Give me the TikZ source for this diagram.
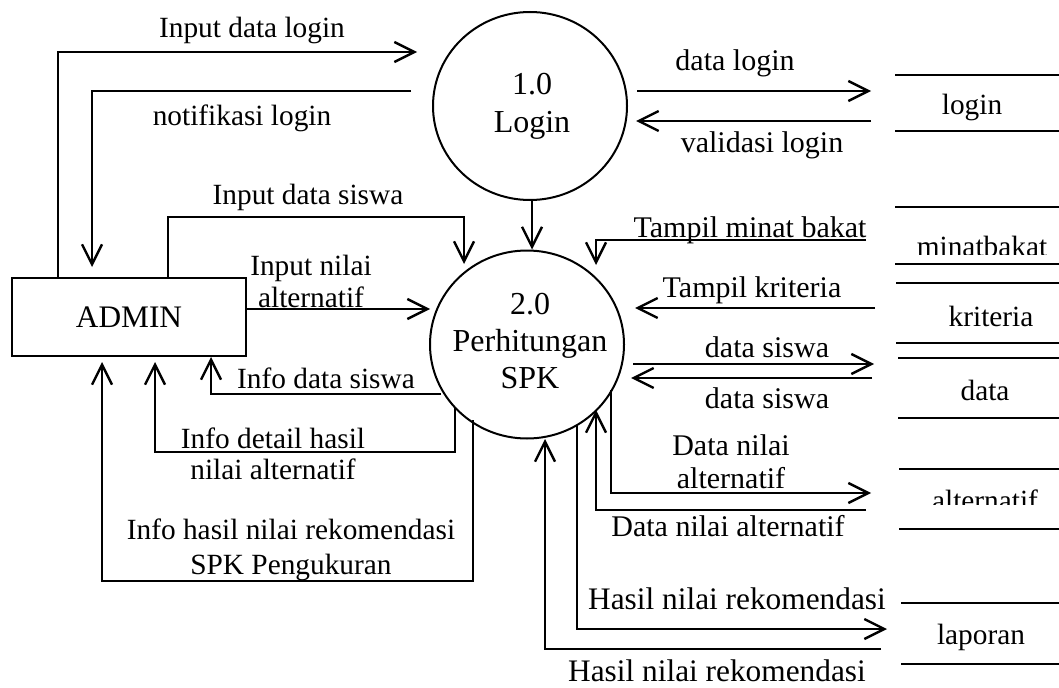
\documentclass[tikz,border=0pt]{standalone}
\usepackage{fontspec}
\setmainfont{Liberation Serif}
\usetikzlibrary{arrows.meta,shapes.geometric}
\begin{document}
\begin{tikzpicture}[x=0.75pt,y=-0.75pt,
  flow/.style={line width=1.8pt,-{Straight Barb[length=15pt,width=15pt]}},
  storeline/.style={line width=1.8pt},
  proc/.style={draw,ellipse,line width=1.5pt,minimum width=145.5pt,minimum height=141pt,inner sep=0pt},
  proctxt/.style={inner sep=0pt,align=center,font=\fontsize{24}{28.5}\selectfont},
  entity/.style={draw,rectangle,line width=1.8pt,minimum width=175.5pt,minimum height=58.5pt,inner sep=0pt,font=\fontsize{23.5}{28}\selectfont},
  lbl/.style={inner sep=0pt,font=\fontsize{22}{26}\selectfont},
  rlbl/.style={inner sep=0pt,font=\fontsize{22.5}{26}\selectfont},
  hlbl/.style={inner sep=0pt,font=\fontsize{23.5}{27}\selectfont},
  storetxt/.style={inner sep=0pt,font=\fontsize{22}{26}\selectfont}
]
\useasboundingbox (0,0) rectangle (1059,688);

% ---------- nodes ----------
\node[entity] (admin) at (129,317) {ADMIN};
\node[proc] (p1) at (530,106) {};
\node[proctxt] (p1t) at (532,106) {1.0\\Login};
\node[proc] (p2) at (527,344.5) {};
\node[proctxt,font=\fontsize{24}{28}\selectfont] (p2t) at (530,341) {2.0\\Perhitungan\\SPK};

% ---------- data stores ----------
\draw[storeline] (895,75) -- (1059,75);
\draw[storeline] (895,131) -- (1059,131);
\node[storetxt] (slogin) at (972,107.5) {login};

\draw[storeline] (895,207) -- (1059,207);
\draw[storeline] (895,264) -- (1059,264);
\begin{scope}
  \clip (895,210) rectangle (1059,254);
  \node[storetxt,anchor=base] (sminat) at (982,256) {minatbakat};
\end{scope}

\draw[storeline] (896,283) -- (1059,283);
\draw[storeline] (896,343) -- (1059,343);
\node[storetxt] (skrit) at (991,316.5) {kriteria};

\draw[storeline] (898,358) -- (1059,358);
\draw[storeline] (898,418) -- (1059,418);
\node[storetxt] (sdata) at (985,390) {data};

\draw[storeline] (899,469) -- (1059,469);
\draw[storeline] (899,529) -- (1059,529);
\begin{scope}
  \clip (895,472) rectangle (1059,504);
  \node[storetxt,anchor=base] (salt) at (985,510) {alternatif};
\end{scope}

\draw[storeline] (901,603) -- (1059,603);
\draw[storeline] (901,664) -- (1059,664);
\node[storetxt] (slap) at (981,637) {laporan};

% ---------- free ends ----------
\coordinate (eIDL) at (417,52);
\coordinate (sNL) at (411,91);
\coordinate (eNL) at (92,267);
\coordinate (eIDS) at (464,264);
\coordinate (eINA) at (430,309);
\coordinate (sIDSw) at (441,394);
\coordinate (eIDSw) at (211,357);
\coordinate (sIDH) at (455,408);
\coordinate (eIDH) at (155,362);
\coordinate (sIHN) at (473,420);
\coordinate (eIHN) at (102,362);
\coordinate (sDL) at (637,91);
\coordinate (eDL) at (871,91);
\coordinate (sVL) at (871,121);
\coordinate (eVL) at (636,121);
\coordinate (sTMB) at (866,240);
\coordinate (eTMB) at (596,265);
\coordinate (sTK) at (875,308);
\coordinate (eTK) at (635,308);
\coordinate (sDS1) at (633,364);
\coordinate (eDS1) at (874,364);
\coordinate (sDS2) at (872,378);
\coordinate (eDS2) at (631,378);
\coordinate (sDNA1) at (611,390);
\coordinate (eDNA1) at (871,493);
\coordinate (sDNA2) at (866,510);
\coordinate (eDNA2) at (596,410);
\coordinate (sHNR1) at (577,426);
\coordinate (eHNR1) at (887,629);
\coordinate (sHNR2) at (881,649);
\coordinate (eHNR2) at (545,439);

% ---------- connectors ----------
\draw[flow] (admin.north -| 58,0) |- (eIDL);
\draw[flow] (sNL) -| (eNL);
\draw[flow] (admin.north -| 168,0) -- (168,217) -| (eIDS);
\draw[flow] (p1.south -| 532,0) -- (p2.north -| 532,0);
\draw[flow] (admin.east |- eINA) -- (eINA);
\draw[flow] (sIDSw) -| (eIDSw);
\draw[flow] (sIDH) -- (455,452) -| (eIDH);
\draw[flow] (sIHN) -- (473,581) -| (eIHN);

\draw[flow] (sDL) -- (eDL);
\draw[flow] (sVL) -- (eVL);
\draw[flow] (sTMB) -| (eTMB);
\draw[flow] (sTK) -- (eTK);
\draw[flow] (sDS1) -- (eDS1);
\draw[flow] (sDS2) -- (eDS2);
\draw[flow] (sDNA1) |- (eDNA1);
\draw[flow] (sDNA2) -| (eDNA2);
\draw[flow] (sHNR1) |- (eHNR1);
\draw[flow] (sHNR2) -| (eHNR2);

% ---------- labels ----------
\node[lbl] (tIDL) at (252,30) {Input data login};
\node[lbl] (tNL) at (242,118) {notifikasi login};
\node[lbl] (tIDS) at (308,197) {Input data siswa};
\node[lbl,align=center,font=\fontsize{22}{24}\selectfont] (tINA) at (311,281.5) {Input nilai\\alternatif};
\node[lbl] (tIDSw) at (326,378) {Info data siswa};
\node[lbl,align=center,font=\fontsize{22}{23.25}\selectfont] (tIDH) at (273,453.5) {Info detail hasil\\nilai alternatif};
\node[lbl,align=center,font=\fontsize{22}{26.25}\selectfont] (tIHN) at (291,550) {Info hasil nilai rekomendasi\\SPK Pengukuran};

\node[rlbl] (tDL) at (735,63) {data login};
\node[rlbl] (tVL) at (762,145) {validasi login};
\node[rlbl] (tTMB) at (750,230) {Tampil minat bakat};
\node[rlbl] (tTK) at (752,290) {Tampil kriteria};
\node[rlbl] (tDS1) at (767,347) {data siswa};
\node[rlbl] (tDS2) at (767,398) {data siswa};
\node[rlbl,align=center,font=\fontsize{22.5}{24.75}\selectfont] (tDNA1) at (731,461.5) {Data nilai\\alternatif};
\node[rlbl] (tDNA2) at (728,526) {Data nilai alternatif};
\node[hlbl] (tHNR1) at (737,599) {Hasil nilai rekomendasi};
\node[hlbl] (tHNR2) at (717,670.5) {Hasil nilai rekomendasi};
\end{tikzpicture}
\end{document}
